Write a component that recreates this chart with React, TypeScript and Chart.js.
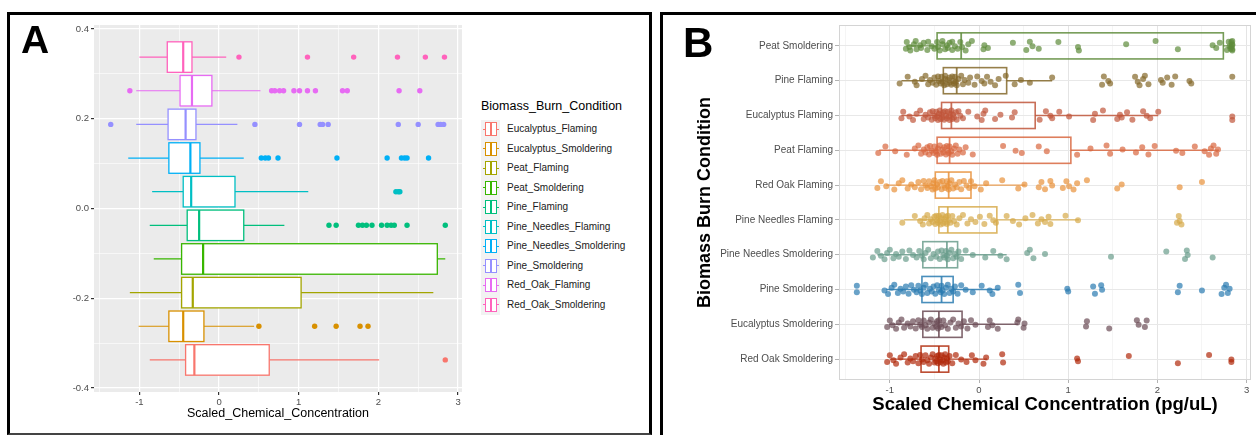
import React, { useEffect, useRef } from "react";
import { Chart, registerables } from "chart.js";
Chart.register(...registerables);

const FONT = "'Liberation Sans', Arial, Helvetica, sans-serif";

// ---------- Panel A data (legend order) ----------
const CONDITIONS = [
  "Eucalyptus_Flaming", "Eucalyptus_Smoldering", "Peat_Flaming", "Peat_Smoldering", "Pine_Flaming",
  "Pine_Needles_Flaming", "Pine_Needles_Smoldering", "Pine_Smoldering", "Red_Oak_Flaming", "Red_Oak_Smoldering",
];
const COLORS_A = ["#F8766D", "#D89000", "#A3A500", "#39B600", "#00BF7D", "#00BFC4", "#00B0F6", "#9590FF", "#E76BF3", "#FF62BC"];
const Q1 = [-0.42, -0.63, -0.47, -0.47, -0.40, -0.45, -0.63, -0.64, -0.49, -0.65];
const MEDIAN = [-0.31, -0.45, -0.33, -0.20, -0.25, -0.35, -0.36, -0.42, -0.34, -0.45];
const Q3 = [0.63, -0.19, 1.03, 2.74, 0.31, 0.20, -0.24, -0.29, -0.09, -0.34];
const WHISKER_LO = [-0.87, -1.01, -1.12, -0.82, -0.87, -0.84, -1.14, -1.04, -1.04, -1.0];
const WHISKER_HI = [2.01, 0.44, 2.69, 2.84, 0.82, 1.12, 0.31, 0.23, 0.52, 0.09];

const OUT_EUCALYPTUS_FLAMING = [2.84];
const OUT_EUCALYPTUS_SMOLDERING = [0.5, 1.2, 1.47, 1.77, 1.87];
const OUT_PEAT_FLAMING: number[] = [];
const OUT_PEAT_SMOLDERING: number[] = [];
const OUT_PINE_FLAMING = [1.38, 1.47, 1.75, 1.8, 1.85, 1.92, 2.04, 2.11, 2.16, 2.2, 2.36, 2.84];
const OUT_PINE_NEEDLES_FLAMING = [2.22, 2.25, 2.27];
const OUT_PINE_NEEDLES_SMOLDERING = [0.53, 0.58, 0.62, 0.74, 1.48, 2.11, 2.29, 2.33, 2.36, 2.63];
const OUT_PINE_SMOLDERING = [-1.36, 0.45, 1.01, 1.27, 1.3, 1.37, 2.25, 2.5, 2.75, 2.78, 2.82];
const OUT_RED_OAK_FLAMING = [-1.12, 0.66, 0.7, 0.76, 0.81, 0.94, 1.01, 1.11, 1.21, 1.55, 1.61, 2.26, 2.52];
const OUT_RED_OAK_SMOLDERING = [0.25, 1.11, 1.69, 2.24, 2.59, 2.83];
const OUTLIERS = [
  OUT_EUCALYPTUS_FLAMING, OUT_EUCALYPTUS_SMOLDERING, OUT_PEAT_FLAMING, OUT_PEAT_SMOLDERING, OUT_PINE_FLAMING,
  OUT_PINE_NEEDLES_FLAMING, OUT_PINE_NEEDLES_SMOLDERING, OUT_PINE_SMOLDERING, OUT_RED_OAK_FLAMING, OUT_RED_OAK_SMOLDERING,
];

const X_TICKS = [-1.5, -1, -0.5, 0, 0.5, 1, 1.5, 2, 2.5, 3];
const Y_TICKS_A = [-0.4, -0.3, -0.2, -0.1, 0, 0.1, 0.2, 0.3, 0.4];

// ---------- Panel B data (top to bottom) ----------
const B_LABELS = [
  "Peat Smoldering", "Pine Flaming", "Eucalyptus Flaming", "Peat Flaming", "Red Oak Flaming",
  "Pine Needles Flaming", "Pine Needles Smoldering", "Pine Smoldering", "Eucalyptus Smoldering", "Red Oak Smoldering",
];
const B_STAT_INDEX = [3, 4, 0, 2, 8, 5, 6, 7, 1, 9];
const B_COLORS = ["#5e8b3b", "#84682a", "#c0563b", "#d8673f", "#e8913a", "#d6a948", "#6a9c8c", "#2a7bb0", "#6b4b55", "#b02a0c"];

const RAW_PEAT_SMOLDERING = [
  -0.82, -0.81, -0.78, -0.77, -0.73, -0.71, -0.7, -0.66, -0.65, -0.62, -0.58, -0.57, -0.53, -0.5,
  -0.47, -0.46, -0.44, -0.41, -0.41, -0.38, -0.36, -0.35, -0.33, -0.3, -0.3, -0.27, -0.24, -0.21,
  -0.19, -0.15, -0.12, -0.08, 0.05, 0.06, 0.1, 0.38, 0.53, 0.57, 0.6, 0.67, 0.89, 1.11, 1.12, 1.65, 1.98, 2.23,
  2.62, 2.66, 2.7, 2.78, 2.8, 2.81, 2.82, 2.83, 2.83, 2.84, 2.84, 2.84, 2.84, 2.84,
];
const RAW_PINE_FLAMING = [
  -0.89, -0.8, -0.72, -0.7, -0.64, -0.6, -0.57, -0.55, -0.52, -0.5, -0.48, -0.46, -0.45, -0.43, -0.42, -0.41,
  -0.39, -0.38, -0.38, -0.36, -0.35, -0.33, -0.33, -0.31, -0.3, -0.29, -0.28, -0.27, -0.26, -0.25,
  -0.23, -0.2, -0.18, -0.16, -0.12, -0.1, -0.05, -0.02, 0.03, 0.06, 0.09, 0.13, 0.18, 0.22, 0.3, 0.4, 0.47, 0.57, 0.82,
  1.38, 1.4, 1.45, 1.47, 1.75, 1.78, 1.8, 1.84, 1.86, 1.9, 2.04, 2.06, 2.11, 2.16, 2.2, 2.36, 2.38, 2.84,
];
const RAW_EUCALYPTUS_FLAMING = [
  -0.87, -0.85, -0.78, -0.74, -0.7, -0.66, -0.62, -0.6, -0.57, -0.55, -0.53, -0.52, -0.5, -0.49, -0.48, -0.47,
  -0.46, -0.45, -0.44, -0.43, -0.42, -0.41, -0.4, -0.39, -0.38, -0.37, -0.36, -0.35, -0.34, -0.33, -0.32, -0.31,
  -0.3, -0.29, -0.28, -0.26, -0.25, -0.23, -0.21, -0.18, -0.12, -0.02, 0.03, 0.05, 0.07, 0.18, 0.24, 0.37, 0.4,
  0.68, 0.75, 0.8, 0.82, 0.9, 1.01, 1.28, 1.3, 1.39, 1.55, 1.58, 1.6, 1.66, 1.72, 1.84, 1.88, 1.92, 2.01, 2.84, 2.84,
];
const RAW_PEAT_FLAMING = [
  -1.13, -1.05, -0.94, -0.81, -0.72, -0.68, -0.65, -0.62, -0.6, -0.58, -0.56, -0.55, -0.53, -0.51, -0.5, -0.48,
  -0.47, -0.46, -0.44, -0.43, -0.41, -0.4, -0.39, -0.37, -0.36, -0.35, -0.34, -0.33, -0.31, -0.3, -0.28, -0.26,
  -0.24, -0.22, -0.18, -0.15, -0.07, 0.27, 0.41, 0.48, 0.67, 0.76, 1.1, 1.25, 1.43, 1.47, 1.61, 1.76, 1.83,
  1.9, 1.97, 2.21, 2.28, 2.42, 2.53, 2.58, 2.6, 2.63, 2.66, 2.68,
];
const RAW_RED_OAK_FLAMING = [
  -1.14, -1.1, -1.04, -0.95, -0.9, -0.86, -0.8, -0.76, -0.72, -0.68, -0.65, -0.62, -0.6, -0.58, -0.56, -0.54,
  -0.52, -0.51, -0.5, -0.49, -0.47, -0.46, -0.44, -0.42, -0.41, -0.39, -0.38, -0.36, -0.35, -0.34, -0.33, -0.31,
  -0.29, -0.27, -0.25, -0.22, -0.2, -0.17, -0.14, -0.11, -0.09, -0.05, 0.02, 0.08, 0.26, 0.44, 0.51,
  0.67, 0.7, 0.74, 0.8, 0.82, 0.94, 0.98, 1.01, 1.06, 1.1, 1.21, 1.55, 1.6, 2.25, 2.5,
];
const RAW_PINE_NEEDLES_FLAMING = [
  -0.86, -0.72, -0.66, -0.63, -0.61, -0.58, -0.56, -0.54, -0.52, -0.5, -0.49, -0.48, -0.47, -0.46, -0.45, -0.44,
  -0.43, -0.42, -0.41, -0.4, -0.39, -0.38, -0.37, -0.36, -0.35, -0.34, -0.32, -0.3, -0.28, -0.25, -0.22, -0.18,
  -0.13, -0.09, -0.04, 0.01, 0.06, 0.12, 0.16, 0.19, 0.31, 0.38, 0.45, 0.52, 0.6, 0.66, 0.7, 0.74, 0.78, 0.8,
  0.97, 1.11, 2.22, 2.24, 2.25, 2.27,
];
const RAW_PINE_NEEDLES_SMOLDERING = [
  -1.19, -1.14, -1.1, -1.06, -1.03, -1.0, -0.96, -0.93, -0.9, -0.86, -0.82, -0.78, -0.74, -0.7, -0.67, -0.64,
  -0.62, -0.6, -0.57, -0.54, -0.51, -0.48, -0.46, -0.44, -0.42, -0.4, -0.39, -0.37, -0.36, -0.35, -0.33, -0.31,
  -0.29, -0.27, -0.25, -0.23, -0.2, -0.15, -0.07, 0.07, 0.16, 0.24, 0.31, 0.54, 0.57, 0.61, 0.74, 1.48, 2.1,
  2.31, 2.33, 2.34, 2.62,
];
const RAW_PINE_SMOLDERING = [
  -1.37, -1.37, -1.06, -1.02, -0.98, -0.95, -0.91, -0.88, -0.85, -0.82, -0.79, -0.76, -0.73, -0.7, -0.68, -0.66,
  -0.64, -0.62, -0.6, -0.58, -0.55, -0.53, -0.51, -0.49, -0.47, -0.45, -0.43, -0.42, -0.41, -0.39, -0.37, -0.35,
  -0.33, -0.31, -0.29, -0.27, -0.24, -0.2, -0.15, -0.07, 0.03, 0.12, 0.15, 0.21, 0.44, 0.46, 0.99, 1.0, 1.28,
  1.3, 1.37, 1.38, 2.23, 2.25, 2.5, 2.72, 2.75, 2.77, 2.79, 2.81,
];
const RAW_EUCALYPTUS_SMOLDERING = [
  -1.03, -1.0, -0.97, -0.93, -0.9, -0.87, -0.84, -0.8, -0.77, -0.74, -0.71, -0.68, -0.66, -0.64, -0.62, -0.6,
  -0.58, -0.56, -0.54, -0.52, -0.5, -0.48, -0.47, -0.46, -0.45, -0.44, -0.42, -0.4, -0.38, -0.35, -0.32, -0.29,
  -0.26, -0.23, -0.2, -0.17, -0.13, -0.09, -0.04, 0.1, 0.12, 0.15, 0.21, 0.43, 0.44, 0.5, 0.51, 1.2, 1.21, 1.46,
  1.77, 1.79, 1.86, 1.88,
];
const RAW_RED_OAK_SMOLDERING = [
  -1.03, -1.0, -0.96, -0.93, -0.88, -0.84, -0.8, -0.77, -0.74, -0.71, -0.68, -0.66, -0.64, -0.62, -0.6, -0.58,
  -0.56, -0.54, -0.52, -0.5, -0.49, -0.48, -0.47, -0.46, -0.45, -0.44, -0.43, -0.42, -0.41, -0.4, -0.39, -0.38,
  -0.37, -0.36, -0.35, -0.33, -0.3, -0.26, -0.2, -0.14, -0.08, -0.04, 0.05, 0.08, 0.26, 0.27, 1.1, 1.11, 1.68,
  2.23, 2.58, 2.83, 2.83,
];
const RAW_B = [
  RAW_PEAT_SMOLDERING, RAW_PINE_FLAMING, RAW_EUCALYPTUS_FLAMING, RAW_PEAT_FLAMING, RAW_RED_OAK_FLAMING,
  RAW_PINE_NEEDLES_FLAMING, RAW_PINE_NEEDLES_SMOLDERING, RAW_PINE_SMOLDERING, RAW_EUCALYPTUS_SMOLDERING, RAW_RED_OAK_SMOLDERING,
];

// vertical jitter pattern (style only)
const JITTER = [0.08, -0.11, 0.03, 0.13, -0.05, -0.14, 0.1, -0.02, 0.06, -0.09, 0.12, -0.12, 0.01];

function rgba(hex: string, a: number) {
  const n = parseInt(hex.slice(1), 16);
  return `rgba(${(n >> 16) & 255},${(n >> 8) & 255},${n & 255},${a})`;
}

type BoxSpec = { y: number; half: number; q1: number; med: number; q3: number; lo: number; hi: number; color: string };

function makeBoxPlugin(boxes: BoxSpec[], style: { fill: string | null; box: number; median: number; whisker: number }) {
  return {
    id: "boxes",
    beforeDatasetsDraw(chart: any) {
      const { ctx, chartArea } = chart;
      const xs = chart.scales.x;
      const ys = chart.scales.y;
      ctx.save();
      ctx.beginPath();
      ctx.rect(chartArea.left, chartArea.top, chartArea.right - chartArea.left, chartArea.bottom - chartArea.top);
      ctx.clip();
      for (const b of boxes) {
        const yc = ys.getPixelForValue(b.y);
        const ya = ys.getPixelForValue(b.y - b.half);
        const yb = ys.getPixelForValue(b.y + b.half);
        const top = Math.min(ya, yb);
        const h = Math.abs(ya - yb);
        const x1 = xs.getPixelForValue(b.q1);
        const x3 = xs.getPixelForValue(b.q3);
        const xm = xs.getPixelForValue(b.med);
        const xl = xs.getPixelForValue(b.lo);
        const xh = xs.getPixelForValue(b.hi);
        ctx.strokeStyle = b.color;
        ctx.lineWidth = style.whisker;
        ctx.beginPath();
        ctx.moveTo(xl, yc);
        ctx.lineTo(x1, yc);
        ctx.moveTo(x3, yc);
        ctx.lineTo(xh, yc);
        ctx.stroke();
        if (style.fill) {
          ctx.fillStyle = style.fill;
          ctx.fillRect(x1, top, x3 - x1, h);
        }
        ctx.lineWidth = style.box;
        ctx.strokeRect(x1, top, x3 - x1, h);
        ctx.lineWidth = style.median;
        ctx.beginPath();
        ctx.moveTo(xm, top);
        ctx.lineTo(xm, top + h);
        ctx.stroke();
      }
      ctx.restore();
    },
  };
}

const isMajor = (v: number, step: number) => Math.abs(v / step - Math.round(v / step)) < 1e-6;

function ChartA() {
  const ref = useRef<HTMLCanvasElement>(null);
  useEffect(() => {
    const yPos = (i: number) => -0.3375 + 0.075 * i;
    const boxes: BoxSpec[] = CONDITIONS.map((_, i) => ({
      y: yPos(i), half: 0.034, q1: Q1[i], med: MEDIAN[i], q3: Q3[i], lo: WHISKER_LO[i], hi: WHISKER_HI[i], color: COLORS_A[i],
    }));
    const bg = {
      id: "panelBg",
      beforeDraw(chart: any) {
        const { ctx, chartArea: a } = chart;
        ctx.save();
        ctx.fillStyle = "#EBEBEB";
        ctx.fillRect(a.left, a.top, a.right - a.left, a.bottom - a.top);
        ctx.restore();
      },
    };
    const chart = new Chart(ref.current!, {
      type: "scatter",
      data: {
        datasets: CONDITIONS.map((c, i) => ({
          label: c,
          data: OUTLIERS[i].map((v) => ({ x: v, y: yPos(i) })),
          pointRadius: 2.7,
          pointBorderWidth: 0,
          pointBackgroundColor: COLORS_A[i],
          backgroundColor: COLORS_A[i],
        })),
      },
      options: {
        animation: false,
        responsive: false,
        events: [],
        layout: { padding: { top: 25, right: 8, left: 0, bottom: 0 } },
        plugins: { legend: { display: false }, tooltip: { enabled: false } },
        scales: {
          x: {
            type: "linear",
            min: -1.57,
            max: 3.05,
            afterBuildTicks: (s: any) => { s.ticks = X_TICKS.map((v) => ({ value: v })); },
            afterFit: (s: any) => { s.height = 43; },
            border: { display: false },
            grid: {
              color: "#FFFFFF",
              lineWidth: (c: any) => (isMajor(c.tick.value, 1) ? 1.2 : 0.6),
              tickColor: (c: any) => (isMajor(c.tick.value, 1) ? "#333333" : "rgba(0,0,0,0)"),
              tickLength: 3,
            },
            ticks: {
              autoSkip: false,
              maxRotation: 0,
              padding: 2,
              color: "#4D4D4D",
              font: { family: FONT, size: 9.5 },
              callback: (v: any) => (isMajor(Number(v), 1) ? String(Math.round(Number(v))) : ""),
            },
            title: {
              display: true,
              text: "Scaled_Chemical_Concentration",
              color: "#000",
              font: { family: FONT, size: 12.5 },
              padding: { top: 0, bottom: 13.5 },
            },
          },
          y: {
            type: "linear",
            min: -0.409,
            max: 0.409,
            afterBuildTicks: (s: any) => { s.ticks = Y_TICKS_A.map((v) => ({ value: v })); },
            afterFit: (s: any) => { s.width = 94; },
            border: { display: false },
            grid: {
              color: "#FFFFFF",
              lineWidth: (c: any) => (isMajor(c.tick.value, 0.2) ? 1.2 : 0.6),
              tickColor: (c: any) => (isMajor(c.tick.value, 0.2) ? "#333333" : "rgba(0,0,0,0)"),
              tickLength: 3,
            },
            ticks: {
              autoSkip: false,
              padding: 2,
              color: "#4D4D4D",
              font: { family: FONT, size: 9.5 },
              callback: (v: any) => (isMajor(Number(v), 0.2) ? Number(v).toFixed(1) : ""),
            },
          },
        },
      },
      plugins: [bg, makeBoxPlugin(boxes, { fill: "#FFFFFF", box: 1.3, median: 2.2, whisker: 1.2 })],
    } as any);
    return () => chart.destroy();
  }, []);
  return <canvas ref={ref} width={470} height={435} style={{ position: "absolute", left: 0, top: 0 }} />;
}

function ChartB() {
  const ref = useRef<HTMLCanvasElement>(null);
  useEffect(() => {
    const boxes: BoxSpec[] = B_LABELS.map((_, i) => {
      const k = B_STAT_INDEX[i];
      return { y: i, half: 0.375, q1: Q1[k], med: MEDIAN[k], q3: Q3[k], lo: WHISKER_LO[k], hi: WHISKER_HI[k], color: rgba(B_COLORS[i], 0.85) };
    });
    const border = {
      id: "panelBorder",
      afterDatasetsDraw(chart: any) {
        const { ctx, chartArea: a } = chart;
        ctx.save();
        ctx.strokeStyle = "#D4D4D4";
        ctx.lineWidth = 1;
        ctx.strokeRect(a.left + 0.5, a.top + 0.5, a.right - a.left - 1, a.bottom - a.top - 1);
        ctx.restore();
      },
    };
    const chart = new Chart(ref.current!, {
      type: "scatter",
      data: {
        datasets: B_LABELS.map((c, i) => ({
          label: c,
          data: RAW_B[i].map((v, k) => ({ x: v, y: i + JITTER[k % JITTER.length] })),
          pointRadius: 3,
          pointBorderWidth: 0,
          pointBackgroundColor: rgba(B_COLORS[i], 0.7),
          backgroundColor: rgba(B_COLORS[i], 0.7),
        })),
      },
      options: {
        animation: false,
        responsive: false,
        events: [],
        layout: { padding: { top: 25, right: 5, left: 0, bottom: 0 } },
        plugins: { legend: { display: false }, tooltip: { enabled: false } },
        scales: {
          x: {
            type: "linear",
            min: -1.57,
            max: 3.05,
            afterBuildTicks: (s: any) => { s.ticks = X_TICKS.map((v) => ({ value: v })); },
            afterFit: (s: any) => { s.height = 55; },
            border: { display: false },
            grid: {
              color: (c: any) => (isMajor(c.tick.value, 1) ? "#E4E4E4" : "#F1F1F1"),
              lineWidth: (c: any) => (isMajor(c.tick.value, 1) ? 1 : 0.7),
              tickColor: (c: any) => (isMajor(c.tick.value, 1) ? "#B3B3B3" : "rgba(0,0,0,0)"),
              tickLength: 3,
            },
            ticks: {
              autoSkip: false,
              maxRotation: 0,
              padding: 2,
              color: "#4D4D4D",
              font: { family: FONT, size: 9.5 },
              callback: (v: any) => (isMajor(Number(v), 1) ? String(Math.round(Number(v))) : ""),
            },
            title: {
              display: true,
              text: "Scaled Chemical Concentration (pg/uL)",
              color: "#000",
              font: { family: FONT, size: 18.5, weight: "bold" },
              padding: { top: 0, bottom: 19 },
            },
          },
          y: {
            type: "linear",
            min: -0.6,
            max: 9.6,
            reverse: true,
            afterBuildTicks: (s: any) => { s.ticks = B_LABELS.map((_, i) => ({ value: i })); },
            afterFit: (s: any) => { s.width = 176; },
            border: { display: false },
            grid: { color: "#E8E8E8", lineWidth: 1, tickColor: "#B3B3B3", tickLength: 4 },
            ticks: {
              autoSkip: false,
              padding: 2,
              color: "#4D4D4D",
              font: { family: FONT, size: 10 },
              callback: (v: any) => B_LABELS[Math.round(Number(v))] ?? "",
            },
            title: {
              display: true,
              text: "Biomass Burn Condition",
              color: "#000",
              font: { family: FONT, size: 18, weight: "bold" },
              padding: { top: 31, bottom: 0 },
            },
          },
        },
      },
      plugins: [makeBoxPlugin(boxes, { fill: null, box: 1.6, median: 1.8, whisker: 1.4 }), border],
    } as any);
    return () => chart.destroy();
  }, []);
  return <canvas ref={ref} width={593} height={435} style={{ position: "absolute", left: 663, top: 0 }} />;
}

function LegendA() {
  const top0 = 119.5;
  const rowH = 19.5;
  return (
    <div style={{ position: "absolute", left: 0, top: 0, fontFamily: FONT }}>
      <div style={{ position: "absolute", left: 481, top: 99, fontSize: 12.5, lineHeight: "15px", color: "#000", whiteSpace: "nowrap" }}>
        Biomass_Burn_Condition
      </div>
      <div style={{ position: "absolute", left: 481, top: top0, width: 19, height: rowH * CONDITIONS.length, background: "#F2F2F2" }} />
      {CONDITIONS.map((c, i) => {
        const cy = top0 + rowH * i + rowH / 2;
        const col = COLORS_A[i];
        return (
          <React.Fragment key={c}>
            <div style={{ position: "absolute", left: 483, top: cy - 0.6, width: 16, height: 1.2, background: col }} />
            <div style={{ position: "absolute", left: 485, top: cy - 7, width: 12, height: 14, boxSizing: "border-box", border: `1.2px solid ${col}`, background: "#FFFFFF" }} />
            <div style={{ position: "absolute", left: 490.2, top: cy - 7, width: 1.6, height: 14, background: col }} />
            <div style={{ position: "absolute", left: 507, top: cy - 7, fontSize: 10, lineHeight: "14px", color: "#1A1A1A", whiteSpace: "nowrap" }}>
              {c}
            </div>
          </React.Fragment>
        );
      })}
    </div>
  );
}

export default function App() {
  return (
    <div style={{ position: "fixed", left: 0, top: 0, width: 1256, height: 435, overflow: "hidden", background: "#FFFFFF", fontFamily: FONT }}>
      <div style={{ position: "absolute", left: 7, top: 12, width: 645, height: 423, boxSizing: "border-box", border: "3px solid #000", borderBottom: "2px solid #444" }} />
      <div style={{ position: "absolute", left: 660, top: 12, width: 620, height: 440, boxSizing: "border-box", border: "3px solid #000" }} />
      <ChartA />
      <LegendA />
      <ChartB />
      <div style={{ position: "absolute", left: 21, top: 20, fontSize: 39, lineHeight: "39px", fontWeight: "bold", color: "#000" }}>A</div>
      <div style={{ position: "absolute", left: 683, top: 22, fontSize: 42, lineHeight: "42px", fontWeight: "bold", color: "#000" }}>B</div>
    </div>
  );
}
